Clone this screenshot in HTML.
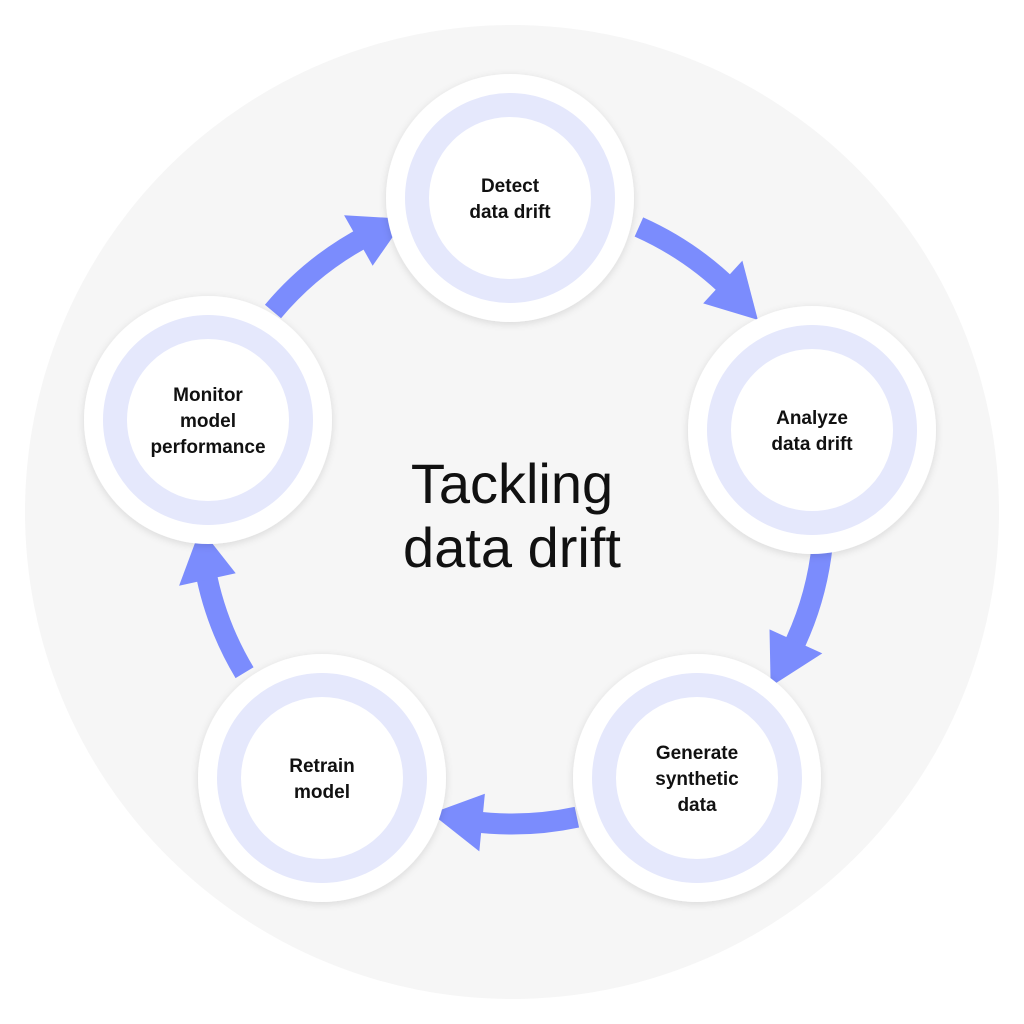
<!DOCTYPE html>
<html><head><meta charset="utf-8"><style>
html,body{margin:0;padding:0;background:#fff;}
svg{display:block;}
</style></head><body>
<svg id="s" width="1024" height="1024" viewBox="0 0 1024 1024" xmlns="http://www.w3.org/2000/svg">
<defs>
<filter id="sh" x="-20%" y="-20%" width="140%" height="140%"><feDropShadow dx="0" dy="2" stdDeviation="4" flood-color="#000" flood-opacity="0.12"/></filter>
</defs>
<circle cx="512" cy="512" r="487" fill="#f6f6f6"/>
<g id="arrows"></g>
<g id="nodes"></g>
<text x="512" y="503" text-anchor="middle" font-family="Liberation Sans, sans-serif" font-size="56" fill="#111">Tackling</text>
<text x="512" y="567" text-anchor="middle" font-family="Liberation Sans, sans-serif" font-size="56" fill="#111">data drift</text>
</svg>
<script>
const NS="http://www.w3.org/2000/svg";
const cx=512,cy=512,R=312;
function P(a,r){a=a*Math.PI/180;return [cx+r*Math.cos(a),cy+r*Math.sin(a)];}
const arrows=[[-66,-38],[6,34],[78,105],[149,177],[220,250]];
let ag=document.getElementById('arrows');
arrows.forEach(([a0,a1])=>{
  const ae=a1-8;
  const s=P(a0,R),e=P(ae+0.5,R);
  const p=document.createElementNS(NS,'path');
  p.setAttribute('d',`M${s[0]},${s[1]} A${R},${R} 0 0 1 ${e[0]},${e[1]}`);
  p.setAttribute('stroke','#7b8cfd');p.setAttribute('stroke-width','21');p.setAttribute('fill','none');
  ag.appendChild(p);
  const t=P(a1,R),b1=P(ae-1.5,R-29),b2=P(ae-1.5,R+29);
  const h=document.createElementNS(NS,'polygon');
  h.setAttribute('points',`${t[0]},${t[1]} ${b1[0]},${b1[1]} ${b2[0]},${b2[1]}`);
  h.setAttribute('fill','#7b8cfd');ag.appendChild(h);
});
const nodes=[[510,198,["Detect","data drift"]],[812,430,["Analyze","data drift"]],[697,778,["Generate","synthetic","data"]],[322,778,["Retrain","model"]],[208,420,["Monitor","model","performance"]]];
let ng=document.getElementById('nodes');
nodes.forEach(([x,y,lines])=>{
  let h=`<circle cx="${x}" cy="${y}" r="124" fill="#fff" filter="url(#sh)"/><circle cx="${x}" cy="${y}" r="93" fill="none" stroke="#e5e8fc" stroke-width="24"/>`;
  const lh=26,y0=y-(lines.length-1)*lh/2+7;
  lines.forEach((l,i)=>{h+=`<text x="${x}" y="${y0+i*lh}" text-anchor="middle" font-family="Liberation Sans, sans-serif" font-weight="bold" font-size="19" fill="#111">${l}</text>`;});
  const g=document.createElementNS(NS,'g');g.innerHTML=h;ng.appendChild(g);
});
</script>
</body></html>
